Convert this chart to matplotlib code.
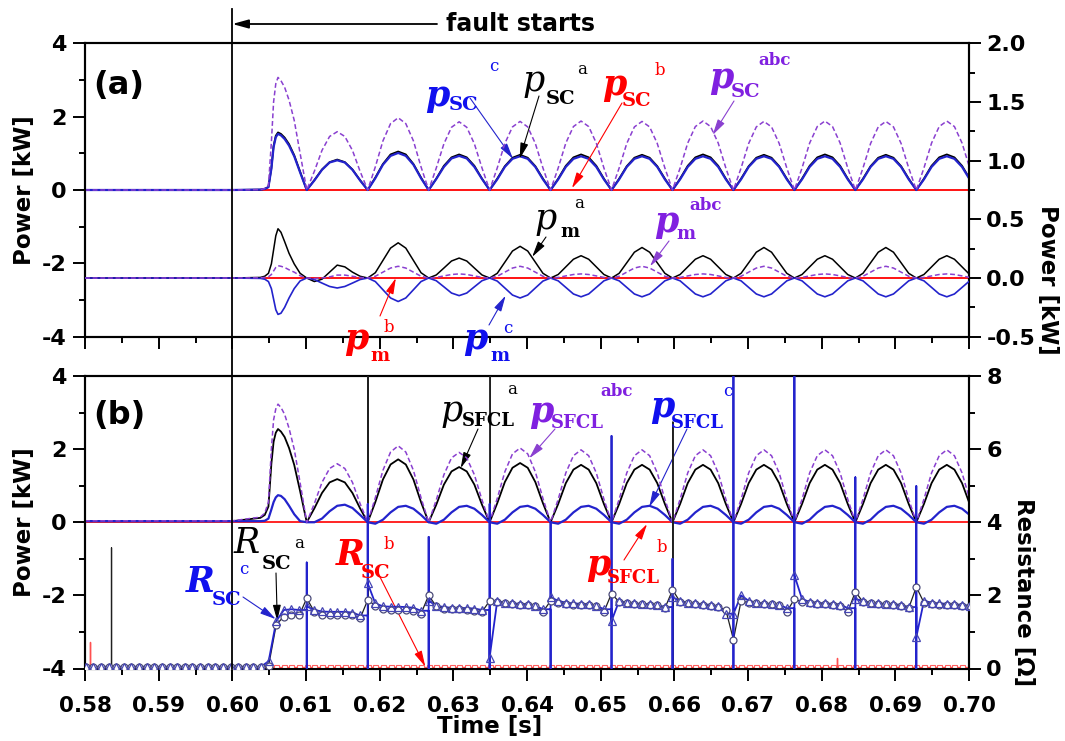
import numpy as np
import matplotlib.pyplot as plt
import matplotlib.transforms as mtransforms
from matplotlib.lines import Line2D
from matplotlib.ticker import MultipleLocator, FormatStrFormatter

W, H = 1065, 741

# ---------------- sampling instants ----------------
# dense samples around the fault inception [s]
t_onset = [0.5800, 0.6000, 0.6038, 0.6044, 0.6049, 0.6053, 0.6056,
           0.6059, 0.6062, 0.6066, 0.6071, 0.6077, 0.6084, 0.6092]
# from the first current zero on: 8 samples per power cycle
t_zero0 = 0.6101
cycle = 0.008275
t_steady = t_zero0 + cycle / 8 * np.arange(89)
t_wave = np.concatenate([t_onset, t_steady])
# resistance samples (marker positions), same step, starting at 0.580 s
t_res = t_zero0 + cycle / 8 * np.arange(-29, 89)

# ---------------- (a) SC power, left axis [kW] ----------------
pSC_a_onset = [0, 0, 0.01, 0.03, 0.08, 0.60, 1.20, 1.48, 1.57, 1.53, 1.43, 1.25, 0.95, 0.50]
pSC_a_cycles = [
    [0, 0.27, 0.56, 0.76, 0.83, 0.76, 0.56, 0.27],
    [0, 0.34, 0.71, 0.97, 1.05, 0.97, 0.71, 0.34],
    [0, 0.31, 0.66, 0.89, 0.97, 0.89, 0.66, 0.31],
    [0, 0.31, 0.65, 0.88, 0.96, 0.88, 0.65, 0.31],
    [0, 0.31, 0.66, 0.89, 0.97, 0.89, 0.66, 0.31],
    [0, 0.31, 0.65, 0.88, 0.96, 0.88, 0.65, 0.31],
    [0, 0.31, 0.66, 0.89, 0.97, 0.89, 0.66, 0.31],
    [0, 0.31, 0.65, 0.88, 0.96, 0.88, 0.65, 0.31],
    [0, 0.31, 0.66, 0.89, 0.97, 0.89, 0.66, 0.31],
    [0, 0.31, 0.65, 0.88, 0.96, 0.88, 0.65, 0.31],
    [0, 0.31, 0.66, 0.89, 0.97, 0.89, 0.66, 0.31],
]
pSC_c_onset = [0, 0, 0.01, 0.03, 0.08, 0.58, 1.17, 1.44, 1.53, 1.49, 1.39, 1.21, 0.92, 0.48]
pSC_c_cycles = [
    [0, 0.26, 0.55, 0.75, 0.81, 0.75, 0.55, 0.26],
    [0, 0.32, 0.69, 0.93, 1.01, 0.93, 0.69, 0.32],
    [0, 0.30, 0.63, 0.86, 0.93, 0.86, 0.63, 0.30],
    [0, 0.29, 0.63, 0.85, 0.92, 0.85, 0.63, 0.29],
    [0, 0.29, 0.63, 0.85, 0.92, 0.85, 0.63, 0.29],
    [0, 0.29, 0.63, 0.85, 0.92, 0.85, 0.63, 0.29],
    [0, 0.29, 0.63, 0.85, 0.92, 0.85, 0.63, 0.29],
    [0, 0.29, 0.63, 0.85, 0.92, 0.85, 0.63, 0.29],
    [0, 0.29, 0.63, 0.85, 0.92, 0.85, 0.63, 0.29],
    [0, 0.29, 0.63, 0.85, 0.92, 0.85, 0.63, 0.29],
    [0, 0.29, 0.63, 0.85, 0.92, 0.85, 0.63, 0.29],
]
pSC_abc_onset = [0, 0, 0.01, 0.04, 0.12, 1.30, 2.40, 2.90, 3.07, 2.98, 2.80, 2.45, 1.90, 1.00]
pSC_abc_cycles = [
    [0, 0.51, 1.08, 1.46, 1.59, 1.46, 1.08, 0.51],
    [0, 0.63, 1.34, 1.81, 1.97, 1.81, 1.34, 0.63],
    [0, 0.60, 1.26, 1.71, 1.86, 1.71, 1.26, 0.60],
    [0, 0.60, 1.27, 1.72, 1.87, 1.72, 1.27, 0.60],
    [0, 0.60, 1.28, 1.73, 1.88, 1.73, 1.28, 0.60],
    [0, 0.60, 1.27, 1.72, 1.87, 1.72, 1.27, 0.60],
    [0, 0.60, 1.28, 1.73, 1.88, 1.73, 1.28, 0.60],
    [0, 0.60, 1.27, 1.72, 1.87, 1.72, 1.27, 0.60],
    [0, 0.60, 1.28, 1.73, 1.88, 1.73, 1.28, 0.60],
    [0, 0.60, 1.27, 1.72, 1.87, 1.72, 1.27, 0.60],
    [0, 0.60, 1.28, 1.73, 1.88, 1.73, 1.28, 0.60],
]
pSC_b_level = 0.0

# ---------------- (a) machine power, right axis [kW] ----------------
pm_a_onset = [0, 0, 0.005, 0.015, 0.04, 0.12, 0.24, 0.36, 0.42, 0.39, 0.31, 0.21, 0.12, 0.04]
pm_a_cycles = [
    [0, -0.03, -0.01, 0.05, 0.11, 0.095, 0.05, 0.015],
    [0, 0.045, 0.15, 0.255, 0.30, 0.255, 0.15, 0.045],
    [0, 0.026, 0.085, 0.145, 0.17, 0.145, 0.085, 0.026],
    [0, 0.04, 0.135, 0.23, 0.27, 0.23, 0.135, 0.04],
    [0, 0.03, 0.095, 0.16, 0.19, 0.16, 0.095, 0.03],
    [0, 0.04, 0.13, 0.22, 0.26, 0.22, 0.13, 0.04],
    [0, 0.03, 0.095, 0.16, 0.19, 0.16, 0.095, 0.03],
    [0, 0.04, 0.13, 0.22, 0.26, 0.22, 0.13, 0.04],
    [0, 0.03, 0.095, 0.16, 0.19, 0.16, 0.095, 0.03],
    [0, 0.04, 0.13, 0.22, 0.26, 0.22, 0.13, 0.04],
    [0, 0.03, 0.095, 0.16, 0.19, 0.16, 0.095, 0.03],
]
pm_c_onset = [0, 0, -0.003, -0.01, -0.03, -0.09, -0.18, -0.27, -0.31, -0.30, -0.25, -0.17, -0.09, -0.025]
pm_c_cycles = [
    [0, -0.013, -0.043, -0.072, -0.085, -0.072, -0.043, -0.013],
    [0, -0.03, -0.10, -0.17, -0.20, -0.17, -0.10, -0.03],
    [0, -0.023, -0.075, -0.128, -0.15, -0.128, -0.075, -0.023],
    [0, -0.026, -0.085, -0.145, -0.17, -0.145, -0.085, -0.026],
    [0, -0.024, -0.08, -0.136, -0.16, -0.136, -0.08, -0.024],
    [0, -0.024, -0.08, -0.136, -0.16, -0.136, -0.08, -0.024],
    [0, -0.024, -0.08, -0.136, -0.16, -0.136, -0.08, -0.024],
    [0, -0.024, -0.08, -0.136, -0.16, -0.136, -0.08, -0.024],
    [0, -0.024, -0.08, -0.136, -0.16, -0.136, -0.08, -0.024],
    [0, -0.024, -0.08, -0.136, -0.16, -0.136, -0.08, -0.024],
    [0, -0.024, -0.08, -0.136, -0.16, -0.136, -0.08, -0.024],
]
pm_abc_onset = [0, 0, 0.002, 0.005, 0.01, 0.03, 0.06, 0.09, 0.105, 0.10, 0.09, 0.07, 0.05, 0.02]
pm_abc_cycles = [
    [0, -0.005, 0.0, 0.01, 0.025, 0.025, 0.015, 0.005],
    [0, 0.015, 0.05, 0.085, 0.10, 0.085, 0.05, 0.015],
    [0, 0.005, 0.018, 0.03, 0.035, 0.03, 0.018, 0.005],
    [0, 0.015, 0.05, 0.085, 0.10, 0.085, 0.05, 0.015],
    [0, 0.005, 0.018, 0.03, 0.035, 0.03, 0.018, 0.005],
    [0, 0.015, 0.05, 0.085, 0.10, 0.085, 0.05, 0.015],
    [0, 0.005, 0.018, 0.03, 0.035, 0.03, 0.018, 0.005],
    [0, 0.015, 0.05, 0.085, 0.10, 0.085, 0.05, 0.015],
    [0, 0.005, 0.018, 0.03, 0.035, 0.03, 0.018, 0.005],
    [0, 0.015, 0.05, 0.085, 0.10, 0.085, 0.05, 0.015],
    [0, 0.005, 0.018, 0.03, 0.035, 0.03, 0.018, 0.005],
]
pm_b_level = 0.0

# ---------------- (b) SFCL power, left axis [kW] ----------------
pSFCL_a_onset = [0.03, 0.03, 0.12, 0.20, 0.43, 1.60, 2.20, 2.45, 2.55, 2.48, 2.33, 2.03, 1.57, 0.85]
pSFCL_a_cycles = [
    [0, 0.38, 0.80, 1.09, 1.18, 1.09, 0.80, 0.38],
    [0, 0.55, 1.17, 1.58, 1.72, 1.58, 1.17, 0.55],
    [0, 0.48, 1.03, 1.39, 1.51, 1.39, 1.03, 0.48],
    [0, 0.52, 1.10, 1.49, 1.62, 1.49, 1.10, 0.52],
    [0, 0.50, 1.07, 1.44, 1.57, 1.44, 1.07, 0.50],
    [0, 0.50, 1.07, 1.44, 1.57, 1.44, 1.07, 0.50],
    [0, 0.50, 1.07, 1.44, 1.57, 1.44, 1.07, 0.50],
    [0, 0.50, 1.07, 1.44, 1.57, 1.44, 1.07, 0.50],
    [0, 0.50, 1.07, 1.44, 1.57, 1.44, 1.07, 0.50],
    [0, 0.50, 1.07, 1.44, 1.57, 1.44, 1.07, 0.50],
    [0, 0.50, 1.07, 1.44, 1.57, 1.44, 1.07, 0.50],
]
pSFCL_c_onset = [0.03, 0.03, 0.03, 0.04, 0.10, 0.35, 0.55, 0.68, 0.74, 0.72, 0.63, 0.45, 0.22, 0.03]
pSFCL_c_cycles = [
    [0, 0.0, 0.10, 0.30, 0.45, 0.48, 0.39, 0.20],
    [0, -0.04, 0.07, 0.27, 0.42, 0.45, 0.37, 0.20],
    [0, -0.04, 0.07, 0.27, 0.42, 0.45, 0.37, 0.20],
    [0, -0.04, 0.07, 0.27, 0.42, 0.45, 0.37, 0.20],
    [0, -0.04, 0.07, 0.27, 0.42, 0.45, 0.37, 0.20],
    [0, -0.04, 0.07, 0.27, 0.42, 0.45, 0.37, 0.20],
    [0, -0.04, 0.07, 0.27, 0.42, 0.45, 0.37, 0.20],
    [0, -0.04, 0.07, 0.27, 0.42, 0.45, 0.37, 0.20],
    [0, -0.04, 0.07, 0.27, 0.42, 0.45, 0.37, 0.20],
    [0, -0.04, 0.07, 0.27, 0.42, 0.45, 0.37, 0.20],
    [0, -0.04, 0.07, 0.27, 0.42, 0.45, 0.37, 0.20],
]
pSFCL_abc_onset = [0.04, 0.04, 0.14, 0.25, 0.55, 2.00, 2.80, 3.10, 3.23, 3.14, 2.95, 2.57, 2.00, 1.08]
pSFCL_abc_cycles = [
    [0, 0.51, 1.09, 1.47, 1.60, 1.47, 1.09, 0.51],
    [0, 0.67, 1.42, 1.92, 2.09, 1.92, 1.42, 0.67],
    [0, 0.61, 1.30, 1.76, 1.91, 1.76, 1.30, 0.61],
    [0, 0.65, 1.38, 1.87, 2.03, 1.87, 1.38, 0.65],
    [0, 0.63, 1.35, 1.82, 1.98, 1.82, 1.35, 0.63],
    [0, 0.63, 1.35, 1.82, 1.98, 1.82, 1.35, 0.63],
    [0, 0.63, 1.35, 1.82, 1.98, 1.82, 1.35, 0.63],
    [0, 0.63, 1.35, 1.82, 1.98, 1.82, 1.35, 0.63],
    [0, 0.63, 1.35, 1.82, 1.98, 1.82, 1.35, 0.63],
    [0, 0.63, 1.35, 1.82, 1.98, 1.82, 1.35, 0.63],
    [0, 0.63, 1.35, 1.82, 1.98, 1.82, 1.35, 0.63],
]
pSFCL_b_level = 0.0

# ---------------- (b) SC resistance, right axis [ohm] ----------------
R_pre = 0.05                     # normal state, 0.580 .. 0.603 s (23 samples)
R_a_onset = [0.05, 0.08, 1.20, 1.42, 1.45, 1.45]
R_c_onset = [0.05, 0.20, 1.30, 1.60, 1.62, 1.60]
R_a_cycles = [
    [1.92, 1.55, 1.47, 1.46, 1.46, 1.46, 1.45, 1.37],
    [1.87, 1.72, 1.64, 1.60, 1.60, 1.60, 1.58, 1.50],
    [2.00, 1.70, 1.64, 1.62, 1.62, 1.60, 1.58, 1.55],
    [1.85, 1.82, 1.78, 1.76, 1.75, 1.74, 1.70, 1.55],
    [1.85, 1.80, 1.76, 1.75, 1.74, 1.73, 1.70, 1.55],
    [2.05, 1.82, 1.78, 1.77, 1.76, 1.75, 1.73, 1.65],
    [2.14, 1.82, 1.78, 1.76, 1.74, 1.72, 1.68, 1.60],
    [0.79, 1.85, 1.80, 1.78, 1.77, 1.76, 1.74, 1.55],
    [1.90, 1.82, 1.78, 1.77, 1.76, 1.75, 1.72, 1.55],
    [2.10, 1.82, 1.78, 1.77, 1.76, 1.75, 1.72, 1.65],
    [2.23, 1.80, 1.76, 1.75, 1.74, 1.73, 1.72, 1.72],
]
R_c_cycles = [
    [1.70, 1.60, 1.56, 1.55, 1.55, 1.55, 1.53, 1.45],
    [2.33, 1.78, 1.70, 1.69, 1.69, 1.68, 1.66, 1.58],
    [1.85, 1.72, 1.68, 1.66, 1.66, 1.65, 1.64, 1.60],
    [0.30, 1.85, 1.80, 1.78, 1.77, 1.76, 1.72, 1.62],
    [1.95, 1.85, 1.80, 1.78, 1.77, 1.76, 1.72, 1.62],
    [1.30, 1.85, 1.80, 1.78, 1.77, 1.76, 1.74, 1.68],
    [1.95, 1.85, 1.80, 1.78, 1.76, 1.74, 1.70, 1.50],
    [1.50, 2.00, 1.85, 1.80, 1.78, 1.77, 1.75, 1.65],
    [2.55, 1.90, 1.82, 1.80, 1.78, 1.77, 1.75, 1.65],
    [1.90, 1.85, 1.80, 1.78, 1.77, 1.76, 1.74, 1.68],
    [0.86, 1.85, 1.80, 1.78, 1.77, 1.76, 1.74, 1.72],
]
R_end = 1.72
# switching spikes at the current zeros: (time [s], peak [ohm])
spike_c_top = [2.9, 4.5, 3.6, 4.5, 4.0, 6.36, 3.0, 8.5, 8.5, 5.23, 4.99]
spike_a = [(0.5836, 3.3), (0.6184, 8.5), (0.6350, 8.5), (0.6598, 6.74)]
R_b_level = 0.05
spike_b = [(0.5807, 0.73), (0.6821, 0.30)]


def wave(onset, cycles):
    return np.array(onset + [v for row in cycles for v in row] + [cycles[-1][0]])


def resist(onset, cycles):
    return np.array([R_pre] * 23 + onset + [v for row in cycles for v in row] + [R_end])


def spiky(t, r, spikes):
    """insert vertical switching spikes (down to 0, up to peak) into a trace"""
    tt, rr = list(t), list(r)
    for ts, top in sorted(spikes, reverse=True):
        i = int(np.searchsorted(t, ts - 1e-6))
        on_grid = i < len(t) and abs(t[i] - ts) < 1e-5
        prev = rr[i - 1]
        pts_t = [ts, ts, ts] + ([] if on_grid else [ts])
        pts_r = [prev, 0.0, top] + ([] if on_grid else [prev])
        tt[i:i] = pts_t
        rr[i:i] = pts_r
    return tt, rr


plt.rcParams['font.family'] = ['DejaVu Sans']
plt.rcParams['font.weight'] = 'bold'
plt.rcParams['axes.labelweight'] = 'bold'
plt.rcParams['axes.unicode_minus'] = False

BLK = '#000000'
BLU = '#2323cc'
RED = '#ff0000'
PUR = '#8a40d0'
T_BLU = '#1010ee'
T_PUR = '#8020e0'
SERIF = 'DejaVu Serif'
DASH = (0, (3.2, 1.8))

fig = plt.figure(figsize=(W / 100, H / 100), dpi=100)
ax_a = fig.add_axes([85 / W, 1 - 336.7 / H, 884 / W, 293.4 / H])
ax_b = fig.add_axes([85 / W, 1 - 668.5 / H, 884 / W, 292.5 / H])
ax_a2 = ax_a.twinx()
ax_b2 = ax_b.twinx()

# ---- panel (a)
ax_a.plot([0.58, 0.70], [pSC_b_level] * 2, color=RED, lw=1.3, zorder=1)
ax_a.plot(t_wave, wave(pSC_a_onset, pSC_a_cycles), color=BLK, lw=1.3, zorder=2)
ax_a.plot(t_wave, wave(pSC_c_onset, pSC_c_cycles), color=BLU, lw=1.6, zorder=3)
ax_a.plot(t_wave, wave(pSC_abc_onset, pSC_abc_cycles), color=PUR, lw=1.1, ls=DASH, zorder=4)

ax_a2.plot([0.58, 0.70], [pm_b_level] * 2, color=RED, lw=1.3, zorder=1)
ax_a2.plot(t_wave, wave(pm_a_onset, pm_a_cycles), color=BLK, lw=1.1, zorder=2)
ax_a2.plot(t_wave, wave(pm_c_onset, pm_c_cycles), color=BLU, lw=1.2, zorder=3)
ax_a2.plot(t_wave, wave(pm_abc_onset, pm_abc_cycles), color=PUR, lw=1.1, ls=DASH, zorder=4)

# ---- panel (b)
ax_b.plot([0.58, 0.70], [pSFCL_b_level] * 2, color=RED, lw=1.2, zorder=1)
ax_b.plot(t_wave, wave(pSFCL_a_onset, pSFCL_a_cycles), color=BLK, lw=1.3, zorder=2)
ax_b.plot(t_wave, wave(pSFCL_c_onset, pSFCL_c_cycles), color=BLU, lw=1.6, zorder=3)
ax_b.plot(t_wave, wave(pSFCL_abc_onset, pSFCL_abc_cycles), color=PUR, lw=1.1, ls=DASH, zorder=4)

R_a = resist(R_a_onset, R_a_cycles)
R_c = resist(R_c_onset, R_c_cycles)
R_b = np.full(len(t_res), R_b_level)
zeros_t = list(t_res[29::8][:11])
tb, rb = spiky(t_res, R_b, spike_b)
ax_b2.plot(tb, rb, color='#ff5050', lw=1.0, zorder=1)
ax_b2.plot(t_res[24:], R_b[24:], ls='none', marker='s', ms=3.6, mfc='white',
           mec='#ff6060', mew=0.8, zorder=2)
ta, ra = spiky(t_res, R_a, spike_a)
ax_b2.plot(ta, ra, color='#202020', lw=0.9, zorder=3)
tc, rc = spiky(t_res, R_c, list(zip(zeros_t, spike_c_top)))
ax_b2.plot(tc, rc, color=BLU, lw=1.3, zorder=4)
ax_b2.plot(t_res, R_a, ls='none', marker='o', ms=5.0, mfc='white', mec='#4a4a78',
           mew=0.9, zorder=5)
ax_b2.plot(t_res, R_c, ls='none', marker='^', ms=5.5, mfc='none', mec='#4646b4',
           mew=0.9, zorder=6)

# ---- axes cosmetics
for ax in (ax_a, ax_b):
    ax.set_xlim(0.58, 0.70)
    ax.set_ylim(-4, 4)
    ax.yaxis.set_major_locator(MultipleLocator(2))
    ax.yaxis.set_minor_locator(MultipleLocator(1))
    ax.xaxis.set_major_locator(MultipleLocator(0.01))
    ax.xaxis.set_minor_locator(MultipleLocator(0.005))
    ax.xaxis.set_major_formatter(FormatStrFormatter('%.2f'))
    ax.tick_params(which='both', direction='out', width=1.4, top=False, right=False)
    ax.tick_params(which='major', length=8.5)
    ax.tick_params(which='minor', length=4.5)
    ax.tick_params(axis='y', labelsize=16, pad=5)
    ax.tick_params(axis='x', labelsize=15.5, pad=11)
    ax.set_ylabel('Power [kW]', fontsize=16.5, fontweight='bold')
    ax.yaxis.set_label_coords(-0.055, 0.5)
ax_a.tick_params(axis='x', labelbottom=False)

ax_a2.set_ylim(-0.5, 2.0)
ax_a2.yaxis.set_major_locator(MultipleLocator(0.5))
ax_a2.yaxis.set_minor_locator(MultipleLocator(0.25))
ax_a2.yaxis.set_major_formatter(FormatStrFormatter('%.1f'))
ax_b2.set_ylim(0, 8)
ax_b2.yaxis.set_major_locator(MultipleLocator(2))
ax_b2.yaxis.set_minor_locator(MultipleLocator(1))
for ax in (ax_a2, ax_b2):
    ax.tick_params(which='both', direction='out', width=1.4, labelsize=16, pad=4)
    ax.tick_params(which='major', length=8.5)
    ax.tick_params(which='minor', length=4.5)
for ax in (ax_a, ax_b, ax_a2, ax_b2):
    for s in ax.spines.values():
        s.set_linewidth(1.5)

fig.text(1047 / W, 1 - 280 / H, 'Power [kW]', rotation=270, fontsize=16.5,
         ha='center', va='center')
fig.text(1023 / W, 1 - 592 / H, 'Resistance [\u03a9]', rotation=270, fontsize=16.5,
         ha='center', va='center')
fig.text(490 / W, 1 - 733 / H, 'Time [s]', fontsize=16.5, ha='center', va='baseline')
fig.text(93 / W, 1 - 94 / H, '(a)', fontsize=23, va='baseline')
fig.text(93 / W, 1 - 424 / H, '(b)', fontsize=23, va='baseline')

# ---- fault inception marker
trans_v = mtransforms.blended_transform_factory(ax_b.transData, fig.transFigure)
fig.add_artist(Line2D([0.60, 0.60], [1 - 668.5 / H, 1 - 8.6 / H], transform=trans_v,
                      color=BLK, lw=1.3))
ax_a.annotate('', xy=(0.60, 1 - 24 / H), xycoords=trans_v,
              xytext=(437 / W, 1 - 24 / H), textcoords='figure fraction',
              arrowprops=dict(arrowstyle='-|>,head_length=0.8,head_width=0.22',
                              color=BLK, lw=1.3, shrinkA=0, shrinkB=0, mutation_scale=12),
              annotation_clip=False)
fig.text(446 / W, 1 - 31 / H, 'fault starts', fontsize=17, va='baseline')


def px(x, y):
    return (x / W, 1 - y / H)


def tag(main, sub, sup, color, m_xy, s_xy, u_xy, heavy, ssize=14):
    fig.text(*px(*m_xy), main, family=SERIF, style='italic', fontsize=25,
             weight='bold' if heavy else 'normal', color=color, va='baseline')
    fig.text(*px(*s_xy), sub, family=SERIF, fontsize=ssize, weight='bold',
             color=color, va='baseline')
    fig.text(*px(*u_xy), sup, family=SERIF, fontsize=12, color=color, va='baseline',
             weight='bold' if sup == 'abc' else 'normal')


def pointer(ax, tip, tail, color):
    ax.annotate('', xy=tip, xycoords='data', xytext=px(*tail), textcoords='figure fraction',
                arrowprops=dict(arrowstyle='-|>,head_length=0.8,head_width=0.2', color=color,
                                lw=0.8, shrinkA=0, shrinkB=0, mutation_scale=12),
                annotation_clip=False)


# panel (a) labels
tag('p', 'SC', 'c', T_BLU, (425, 106), (449, 110), (489, 71), True)
tag('p', 'SC', 'a', BLK, (523, 91), (546, 104), (577, 74), False)
tag('p', 'SC', 'b', RED, (602, 95), (622, 106), (655, 75), True)
tag('p', 'SC', 'abc', T_PUR, (709, 88), (731, 97), (758, 65), True)
tag('p', 'm', 'a', BLK, (534, 229), (560, 237), (574, 208), False, 13)
tag('p', 'm', 'abc', T_PUR, (654, 232), (676, 239), (689, 210), True, 13)
tag('p', 'm', 'b', RED, (344, 349), (370, 361), (384, 332), True, 13)
tag('p', 'm', 'c', T_BLU, (463, 349), (490, 361), (503, 333), True, 13)
pointer(ax_a, (0.6381, 0.85), (470, 98), BLU)
pointer(ax_a, (0.6390, 0.85), (539, 96), BLK)
pointer(ax_a, (0.6461, 0.05), (622, 103), RED)
pointer(ax_a, (0.6652, 1.50), (734, 101), PUR)
pointer(ax_a2, (0.6407, 0.18), (546, 237), BLK)
pointer(ax_a2, (0.6567, 0.10), (669, 241), PUR)
pointer(ax_a2, (0.6222, 0.00), (380, 316), RED)
pointer(ax_a2, (0.6371, -0.15), (489, 325), BLU)

# panel (b) labels
tag('p', 'SFCL', 'a', BLK, (440, 421), (462, 426), (507, 394), False, 13)
tag('p', 'SFCL', 'abc', T_PUR, (529, 422), (551, 428), (600, 396), True, 13)
tag('p', 'SFCL', 'c', T_BLU, (650, 417), (671, 428), (723, 396), True, 13)
tag('p', 'SFCL', 'b', RED, (586, 575), (607, 583), (657, 552), True, 13)
tag('R', 'SC', 'a', BLK, (234, 553), (262, 569), (294, 548), False)
tag('R', 'SC', 'b', RED, (336, 565), (361, 578), (384, 549), True)
tag('R', 'SC', 'c', T_BLU, (186, 592), (212, 605), (239, 574), True)
pointer(ax_b, (0.6310, 1.48), (478, 429), BLK)
pointer(ax_b, (0.6403, 1.75), (555, 429), PUR)
pointer(ax_b, (0.6566, 0.42), (687, 429), BLU)
pointer(ax_b, (0.6563, -0.05), (624, 560), RED)
pointer(ax_b2, (0.6061, 1.30), (276, 573), BLK)
pointer(ax_b2, (0.6262, 0.05), (379, 575), RED)
pointer(ax_b2, (0.6059, 1.35), (243, 597), BLU)

fig.savefig('out.png', dpi=100)
